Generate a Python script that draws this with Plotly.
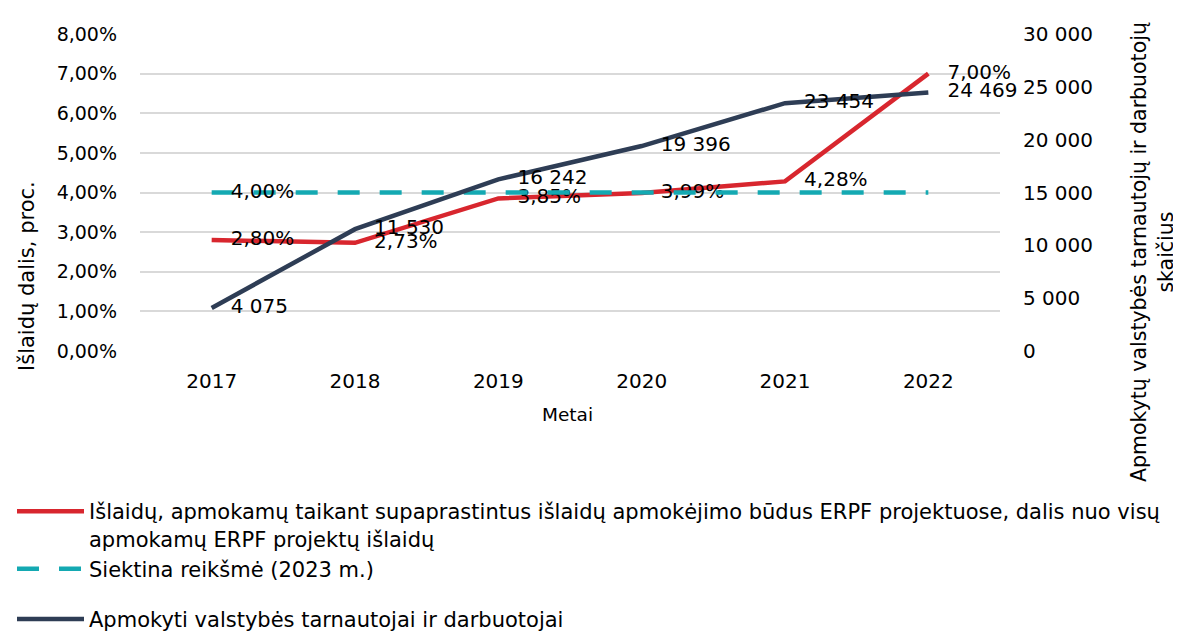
import plotly.graph_objects as go

years = ["2017", "2018", "2019", "2020", "2021", "2022"]
share_pct = [2.80, 2.73, 3.85, 3.99, 4.28, 7.00]
target_pct = [4.00, 4.00, 4.00, 4.00, 4.00, 4.00]
trained = [4075, 11530, 16242, 19396, 23454, 24469]

name_share = "Išlaidų, apmokamų taikant supaprastintus išlaidų apmokėjimo būdus ERPF projektuose, dalis nuo visų<br>apmokamų ERPF projektų išlaidų"
name_target = "Siektina reikšmė (2023 m.)"
name_trained = "Apmokyti valstybės tarnautojai ir darbuotojai"

FONT = "DejaVu Sans"
RED = "#D8262E"
TEAL = "#14A9B2"
NAVY = "#2E3D55"

def pct(v):
    return f"{v:.2f}".replace(".", ",") + "%"

def num(v):
    return f"{v:,}".replace(",", " ")

share_txt = ["   " + pct(v) for v in share_pct]
target_txt = ["   " + pct(target_pct[0])] + [""] * (len(target_pct) - 1)
trained_txt = ["   " + num(v) for v in trained]

LBL = dict(family=FONT, size=20, color="black")

fig = go.Figure()
fig.add_trace(go.Scatter(
    x=years, y=share_pct, name=name_share, mode="lines+text",
    line=dict(color=RED, width=4.5), text=share_txt, textposition="middle right",
    textfont=LBL, legendgroup="a", cliponaxis=False,
))
fig.add_trace(go.Scatter(
    x=years, y=target_pct, name=name_target, mode="lines+text",
    line=dict(color=TEAL, width=4.5, dash="22px,20px"), text=target_txt,
    textposition="middle right", textfont=LBL, legendgroup="a", cliponaxis=False,
))
fig.add_trace(go.Scatter(
    x=years, y=trained, name=name_trained, mode="lines+text", yaxis="y2",
    line=dict(color=NAVY, width=4.5), text=trained_txt, textposition="middle right",
    textfont=LBL, legendgroup="b", cliponaxis=False,
))

# page body has an 8px margin; figure extends to the window's right/bottom edges
OFF = 8
FW, FH = 1181 - OFF, 631 - OFF
L, T, W, H = 140 - OFF, 34 - OFF, 860, 317

def px_x(p):  # screen pixel -> paper x
    return (p - OFF - L) / W

def px_y(p):  # screen pixel -> paper y
    return (T + H - (p - OFF)) / H

fig.update_layout(
    width=FW, height=FH,
    margin=dict(l=L, r=FW - L - W, t=T, b=FH - T - H, autoexpand=False),
    paper_bgcolor="white", plot_bgcolor="white",
    separators=", ",
    font=dict(family=FONT, size=20, color="black"),
    showlegend=True,
    legend=dict(
        x=px_x(12), y=px_y(491), xanchor="left", yanchor="top",
        orientation="v", traceorder="grouped", tracegroupgap=20,
        font=dict(family=FONT, size=21, color="black"),
        bgcolor="rgba(0,0,0,0)", itemwidth=67, valign="top",
    ),
    xaxis=dict(
        type="category", range=[-0.5, 5.5], showgrid=False, showline=False,
        ticks="", tickfont=dict(family=FONT, size=20), ticklabelstandoff=16,
        zeroline=False,
    ),
    yaxis=dict(
        range=[0, 8], dtick=1, tickformat=".2f", ticksuffix="%",
        showgrid=True, gridcolor="#D9D9D9", gridwidth=1.5, zeroline=False,
        showline=False, ticks="", tickfont=dict(family=FONT, size=19),
        ticklabelstandoff=22,
    ),
    yaxis2=dict(
        range=[0, 30000], dtick=5000, tickformat=",d", overlaying="y", side="right",
        showgrid=False, zeroline=False, showline=False, ticks="",
        tickfont=dict(family=FONT, size=20), ticklabelstandoff=22,
    ),
    annotations=[
        dict(text="Išlaidų dalis, proc.", textangle=-90, xref="paper", yref="paper",
             x=px_x(27), y=px_y(276), xanchor="center", yanchor="middle",
             showarrow=False, font=dict(family=FONT, size=21)),
        dict(text="Apmokytų valstybės tarnautojų ir darbuotojų<br>skaičius", textangle=-90,
             xref="paper", yref="paper", x=px_x(1153), y=px_y(252),
             xanchor="center", yanchor="middle", showarrow=False,
             font=dict(family=FONT, size=20.5)),
        dict(text="Metai", xref="paper", yref="paper", x=px_x(567), y=px_y(414),
             xanchor="center", yanchor="middle", showarrow=False,
             font=dict(family=FONT, size=18.5)),
    ],
)

fig.write_html("out.html")
